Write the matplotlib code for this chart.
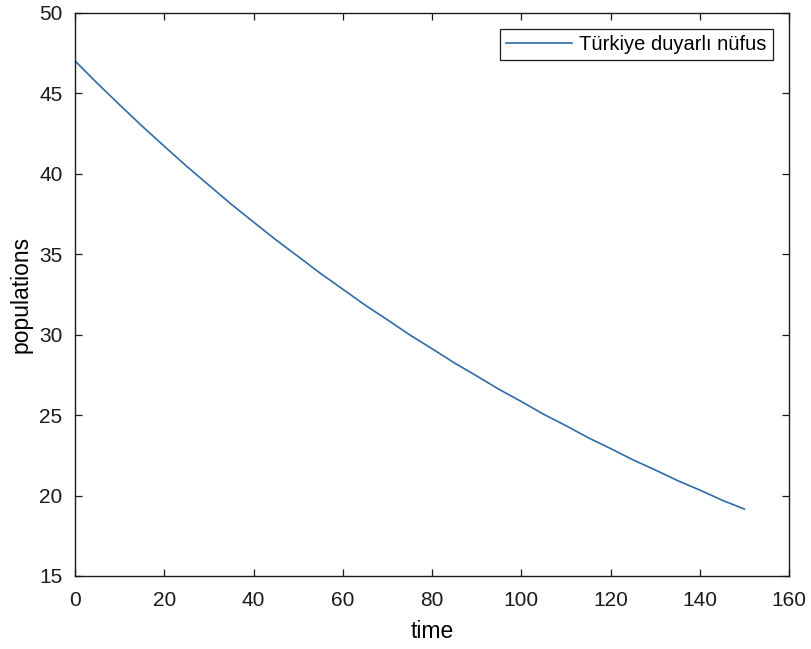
import matplotlib
matplotlib.use("Agg")
import matplotlib.pyplot as plt

# susceptible population over time
time = [0, 5, 10, 15, 20, 25, 30, 35, 40, 45, 50, 55, 60, 65, 70, 75,
        80, 85, 90, 95, 100, 105, 110, 115, 120, 125, 130, 135, 140, 145, 150]
susceptible = [47.0, 45.61, 44.27, 42.96, 41.70, 40.46, 39.28, 38.10, 36.99,
               35.89, 34.85, 33.80, 32.82, 31.83, 30.92, 29.98, 29.12, 28.24,
               27.43, 26.60, 25.84, 25.05, 24.34, 23.59, 22.92, 22.22, 21.59,
               20.93, 20.34, 19.71, 19.16]

x_ticks = [0, 20, 40, 60, 80, 100, 120, 140, 160]
y_ticks = [15, 20, 25, 30, 35, 40, 45, 50]

plt.rcParams['font.family'] = ['Liberation Sans', 'DejaVu Sans']

fig = plt.figure(figsize=(8.12, 6.49), dpi=100)
ax = fig.add_axes([0.0924, 0.1125, 0.8793, 0.868])

ax.plot(time, susceptible, color='#2E6CA8', linewidth=1.2, label='Türkiye duyarlı nüfus')

ax.set_xlim(0, 160)
ax.set_ylim(15, 50)
ax.set_xticks(x_ticks)
ax.set_yticks(y_ticks)
ax.tick_params(direction='in', length=5, width=0.9, top=True, right=True,
               labelsize=15, colors='#1a1a1a')
ax.tick_params(axis='x', pad=11)
ax.tick_params(axis='y', pad=9)
for sp in ax.spines.values():
    sp.set_linewidth(1.0)
    sp.set_color('#1a1a1a')

ax.set_xlabel('time', fontsize=16.5, labelpad=7)
ax.set_ylabel('populations', fontsize=16.5, labelpad=5)

leg = ax.legend(loc='upper right', fontsize=14.5, frameon=True, fancybox=False,
                borderpad=0.3, handlelength=3.3, handletextpad=0.35,
                borderaxespad=0.8)
leg.get_frame().set_edgecolor('#1a1a1a')
leg.get_frame().set_linewidth(0.9)
leg.get_frame().set_alpha(1.0)

fig.savefig('out.png', dpi=100)
